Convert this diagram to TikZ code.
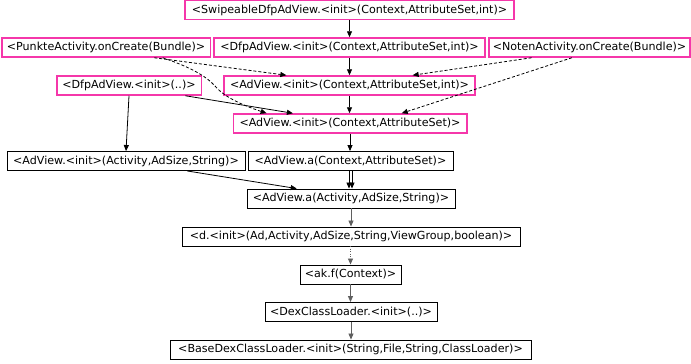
\documentclass[tikz,border=0pt]{standalone}
\usepackage{fontspec}
\setmainfont{DejaVu Sans}
\usetikzlibrary{arrows.meta,calc}
\definecolor{callpink}{RGB}{245,55,170}
\definecolor{edgegray}{RGB}{95,95,95}
\tikzset{
  meth/.style={draw, line width=0.9pt, inner sep=0pt, minimum height=19pt,
    font=\fontsize{11.1}{13}\selectfont, text=black},
  entry/.style={meth, draw=callpink, line width=1.5pt},
  call/.style={-{Triangle[length=6pt,width=5pt]}, line width=0.8pt, black},
  maycall/.style={call, dash pattern=on 3pt off 2pt},
  lowcall/.style={call, draw=edgegray},
  dotcall/.style={call, draw=edgegray, dash pattern=on 1pt off 1.5pt},
}
\begin{document}
\begin{tikzpicture}[x=1pt,y=-1pt]
\useasboundingbox (0,0) rectangle (691,364);

% call-graph nodes, one row per level
\node[entry, minimum width=329pt]   (swipe)  at (349.5,10)   {<SwipeableDfpAdView.<init>(Context,AttributeSet,int)>};
\node[entry, minimum width=208.5pt] (punkte) at (106,47.5)   {<PunkteActivity.onCreate(Bundle)>};
\node[entry, minimum width=271pt]   (dfpcai) at (349.5,47.5) {<DfpAdView.<init>(Context,AttributeSet,int)>};
\node[entry, minimum width=201pt]   (noten)  at (589.5,47.5) {<NotenActivity.onCreate(Bundle)>};
\node[entry, minimum width=144.5pt] (dfpdot) at (129,85.5)   {<DfpAdView.<init>(..)>};
\node[entry, minimum width=251pt]   (adcai)  at (349.5,85.5) {<AdView.<init>(Context,AttributeSet,int)>};
\node[entry, minimum width=233.5pt] (adca)   at (350,123.5)  {<AdView.<init>(Context,AttributeSet)>};
\node[meth,  minimum width=238pt]   (adaas)  at (126,161)    {<AdView.<init>(Activity,AdSize,String)>};
\node[meth,  minimum width=205pt]   (aca)    at (350.5,161)  {<AdView.a(Context,AttributeSet)>};
\node[meth,  minimum width=208pt]   (aaas)   at (351,198.5)  {<AdView.a(Activity,AdSize,String)>};
\node[meth,  minimum width=338pt]   (dinit)  at (351,236.5)  {<d.<init>(Ad,Activity,AdSize,String,ViewGroup,boolean)>};
\node[meth,  minimum width=101pt]   (akf)    at (350.5,274.5){<ak.f(Context)>};
\node[meth,  minimum width=172pt]   (dex)    at (351,312)    {<DexClassLoader.<init>(..)>};
\node[meth,  minimum width=361pt]   (base)   at (350.5,349.5){<BaseDexClassLoader.<init>(String,File,String,ClassLoader)>};

% straight-down calls
\draw[call] (swipe.south)  -- (swipe.south |- dfpcai.north);
\draw[call] (dfpcai.south) -- (dfpcai.south |- adcai.north);
\draw[call] (adcai.south)  -- (adcai.south |- adca.north);
\draw[call] (adca.south)   -- (adca.south |- aca.north);
\draw[call] ([xshift=-1.5pt]aca.south) -- ([xshift=-1.5pt]aca.south |- aaas.north);
\draw[call] ([xshift=1.5pt]aca.south)  -- ([xshift=1.5pt]aca.south |- aaas.north);
\draw[lowcall] (aaas.south)  -- (aaas.south |- dinit.north);
\draw[dotcall] (akf.north |- dinit.south) -- (akf.north);
\draw[lowcall] (akf.south)   -- (akf.south |- dex.north);
\draw[lowcall] (dex.south)   -- (dex.south |- base.north);

% calls from the activities (dashed)
\draw[maycall] ($(punkte.south west)!0.73!(punkte.south east)$)
  -- ($(adcai.north west)!0.25!(adcai.north east)$);
\coordinate (bend) at (215,86);
\draw[maycall] ($(punkte.south west)!0.77!(punkte.south east)$)
  .. controls (190,67) and (206,76) .. (bend)
  .. controls (225,98) and (245,106) .. ($(adca.north west)!0.145!(adca.north east)$);
\draw[maycall] ($(noten.south west)!0.214!(noten.south east)$)
  -- ($(adcai.north west)!0.75!(adcai.north east)$);
\draw[maycall] ($(noten.south west)!0.413!(noten.south east)$)
  -- ($(adca.north west)!0.72!(adca.north east)$);

% remaining slanted calls
\draw[call] ($(dfpdot.south west)!0.886!(dfpdot.south east)$)
  -- ($(adca.north west)!0.257!(adca.north east)$);
\draw[call] (dfpdot.south) -- ($(adaas.north west)!0.5!(adaas.north east)$);
\draw[call] ($(adaas.south west)!0.756!(adaas.south east)$)
  -- ($(aaas.north west)!0.24!(aaas.north east)$);
\end{tikzpicture}
\end{document}
